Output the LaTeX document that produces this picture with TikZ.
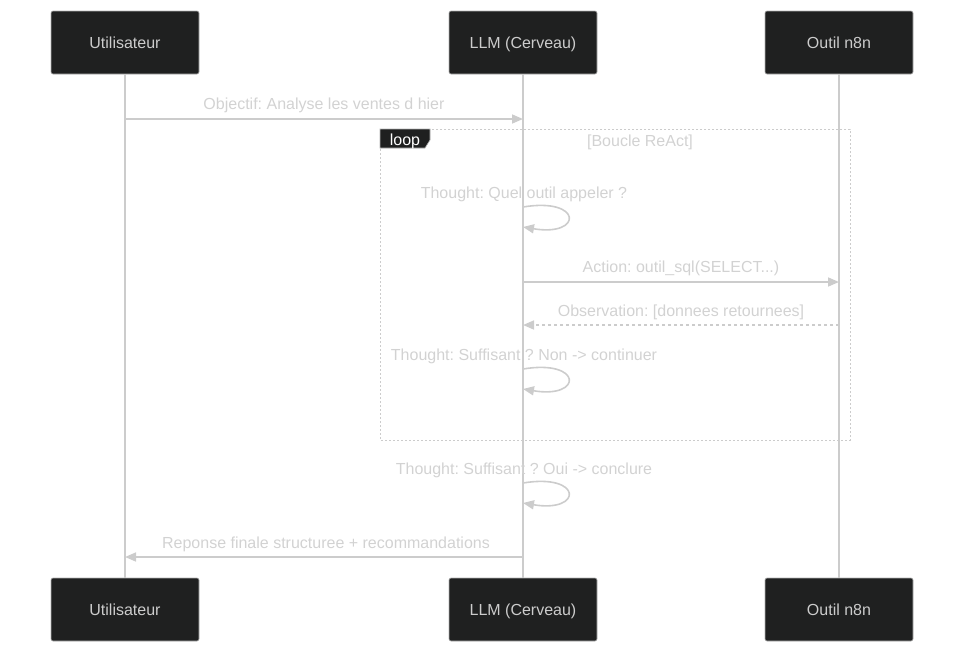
\documentclass[tikz,border=0pt]{standalone}
\usepackage{fontspec}
\setmainfont{Liberation Sans}
\usetikzlibrary{arrows.meta, positioning, calc}
\definecolor{boxfill}{HTML}{1F2020}
\definecolor{lineg}{HTML}{CCCCCC}
\definecolor{textg}{HTML}{D2D2D2}
\frenchspacing

\begin{document}
\begin{tikzpicture}[
    x=1pt, y=-1pt,
    >={Triangle[length=11pt, width=9pt]},
    actor/.style={draw=gray!60, fill=boxfill, rounded corners=2pt, minimum width=148pt, minimum height=63pt, text=lineg, font=\fontsize{16}{19}\selectfont, text height=11.5pt, text depth=0pt, line width=0.6pt},
    lifeline/.style={draw=lineg, line width=1.6pt},
    msg/.style={draw=lineg, line width=1.6pt, ->},
    msgtext/.style={text=textg, font=\fontsize{16}{19}\selectfont, inner sep=0pt, text height=11.5pt, text depth=0pt},
    selfloop/.style={draw=lineg, line width=1.6pt, ->},
    loopframe/.style={draw=lineg, line width=1pt, dash pattern=on 2pt off 2pt},
    ]
    \useasboundingbox (0,0) rectangle (964,654);

    % Participants
    \node (U) [actor] at (125,42.5) {Utilisateur};
    \node (L) [actor] at (523,42.5) {LLM (Cerveau)};
    \node (O) [actor] at (839,42.5) {Outil n8n};
    \node (Ub) [actor] at (125,609.5) {Utilisateur};
    \node (Lb) [actor] at (523,609.5) {LLM (Cerveau)};
    \node (Ob) [actor] at (839,609.5) {Outil n8n};

    % Loop frame
    \draw[loopframe] (380,129) rectangle (850,440);
    \draw[draw=gray!60, fill=boxfill, line width=0.6pt] (380,129) -- (430,129) -- (430,140) -- (425,148) -- (380,148) -- cycle;
    \node (looplab) [msgtext, text=white] at (405,139.5) {loop};
    \node (loopcond) [msgtext] at (640,141) {[Boucle ReAct]};

    % Lifelines
    \draw[lifeline] (U) -- (Ub);
    \draw[lifeline] (L) -- (Lb);
    \draw[lifeline] (O) -- (Ob);

    % Message points
    \coordinate (u1) at (125,119);
    \coordinate (l1) at (523,119);
    \coordinate (t1a) at (523,207);
    \coordinate (t1b) at (523,227);
    \coordinate (l2) at (523,282);
    \coordinate (o2) at (839,282);
    \coordinate (o3) at (839,325);
    \coordinate (l3) at (523,325);
    \coordinate (t2a) at (523,369);
    \coordinate (t2b) at (523,389);
    \coordinate (t3a) at (523,483);
    \coordinate (t3b) at (523,503);
    \coordinate (l4) at (523,557);
    \coordinate (u4) at (125,557);

    % Messages
    \draw[msg] (u1) -- (l1);
    \node (m1) [msgtext] at (324,104) {Objectif: Analyse les ventes d hier};

    \draw[selfloop] (t1a) .. controls ($(t1a)+(60,-10)$) and ($(t1b)+(60,10)$) .. (t1b);
    \node (m2) [msgtext] at (524,193) {Thought: Quel outil appeler ?};

    \draw[msg] (l2) -- (o2);
    \node (m3) [msgtext] at (681,267) {Action: outil\_sql(SELECT...)};

    \draw[msg, dash pattern=on 3pt off 3pt] (o3) -- (l3);
    \node (m4) [msgtext] at (681,311) {Observation: [donnees retournees]};

    \draw[selfloop] (t2a) .. controls ($(t2a)+(60,-10)$) and ($(t2b)+(60,10)$) .. (t2b);
    \node (m5) [msgtext] at (524,355) {Thought: Suffisant ? Non -> continuer};

    \draw[selfloop] (t3a) .. controls ($(t3a)+(60,-10)$) and ($(t3b)+(60,10)$) .. (t3b);
    \node (m6) [msgtext] at (524,469) {Thought: Suffisant ? Oui -> conclure};

    \draw[msg] (l4) -- (u4);
    \node (m7) [msgtext] at (326,543) {Reponse finale structuree + recommandations};
\end{tikzpicture}
\end{document}
